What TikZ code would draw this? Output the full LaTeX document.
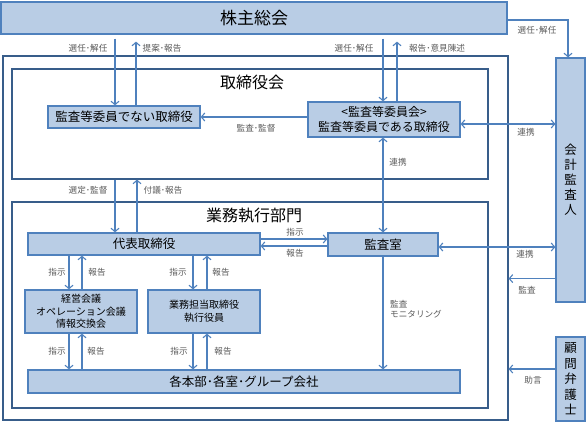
\documentclass[tikz,border=0pt]{standalone}
\usepackage{fontspec}
\setmainfont{Noto Sans CJK JP}
\usetikzlibrary{calc,arrows.meta}
\definecolor{boxfill}{HTML}{B9CDE5}
\definecolor{boxline}{HTML}{4F81BD}
\definecolor{frameline}{HTML}{385D8A}
\definecolor{labelgray}{HTML}{595959}

\begin{document}
\begin{tikzpicture}[x=1pt,y=-1pt,
  box/.style={draw=boxline,fill=boxfill,line width=1.2pt,inner sep=0pt,align=center,font=\fontsize{12.5}{14}\selectfont},
  smallbox/.style={box,font=\fontsize{10}{12.5}\selectfont},
  frame/.style={draw=frameline,line width=1.1pt,inner sep=0pt},
  arr/.style={draw=boxline,line width=1.1pt,-{Straight Barb[length=3.5pt,width=8pt]}},
  dbl/.style={draw=boxline,line width=1.1pt,{Straight Barb[length=3.5pt,width=8pt]}-{Straight Barb[length=3.5pt,width=8pt]}},
  lbl/.style={text=labelgray,font=\fontsize{8.6}{10}\selectfont,inner sep=0pt}]
\useasboundingbox (0,0) rectangle (586,423);
% the frames
\node[frame,minimum width=505,minimum height=364] (co) at (255.5,238) {};
\node[frame,minimum width=476,minimum height=110] (bd) at (250,124) {};
\node[frame,minimum width=476,minimum height=206] (ex) at (250,305) {};
\node[font=\fontsize{16}{18}\selectfont] (bdt) at (252,82) {取締役会};
\node[font=\fontsize{16}{18}\selectfont] (ext) at (254,216) {業務執行部門};
% the boxes
\node[box,minimum width=506,minimum height=32,font=\fontsize{17}{19}\selectfont] (gm) at (254,18) {株主総会};
\node[box,minimum width=152,minimum height=22] (nd) at (124,117) {監査等委員でない取締役};
\node[box,minimum width=152,minimum height=35,font=\fontsize{12}{15}\selectfont] (ac) at (384,119.5) {<監査等委員会>\\監査等委員である取締役};
\node[box,minimum width=232,minimum height=22] (rep) at (144,244) {代表取締役};
\node[box,minimum width=110,minimum height=23] (aud) at (383,244.5) {監査室};
\node[smallbox,minimum width=112,minimum height=43] (mtg) at (81,311.5) {経営会議\\オペレーション会議\\情報交換会};
\node[smallbox,minimum width=112,minimum height=43] (exo) at (204,311.5) {業務担当取締役\\執行役員};
\node[box,minimum width=432,minimum height=23] (div) at (244,381.5) {各本部･各室･グループ会社};
\node[box,minimum width=29,minimum height=244,font=\fontsize{12.5}{15}\selectfont] (ca) at (570.5,180) {会\\計\\監\\査\\人};
\node[box,minimum width=29,minimum height=84,font=\fontsize{12.5}{15.5}\selectfont] (lw) at (570.5,379) {顧\\問\\弁\\護\\士};
% shareholders and the board
\draw[arr] ($(nd.north |- gm.south)+(-9,4)$) -- ($(nd.north)+(-9,0)$);
\draw[arr] ($(nd.north)+(12,0)$) -- ($(nd.north |- gm.south)+(12,7)$);
\draw[arr] ($(ac.north |- gm.south)+(-1,4)$) -- ($(ac.north)+(-1,0)$);
\draw[arr] ($(ac.north)+(13,0)$) -- ($(ac.north |- gm.south)+(13,7)$);
\draw[arr] ($(gm.east)+(0,2)$) -| ($(ca.north)+(-2.5,0)$);
\draw[arr] (ac.west |- nd.east) -- (nd.east);
\draw[dbl] ($(ac.east)+(0,4.5)$) -- ($(ac.east -| ca.west)+(0,4.5)$);
\draw[dbl] (ac.south -| aud.north) -- (aud.north);
% board and the executives
\draw[arr] ($(rep.north |- bd.south)+(-29,0)$) -- ($(rep.north)+(-29,0)$);
\draw[arr] ($(rep.north)+(-7,0)$) -- ($(rep.north |- bd.south)+(-7,0)$);
\draw[arr] ($(rep.east)+(0,-5)$) -- ($(aud.west |- rep.east)+(0,-5)$);
\draw[arr] ($(aud.west |- rep.east)+(0,2)$) -- ($(rep.east)+(0,2)$);
\draw[dbl] ($(aud.east)+(0,2.5)$) -- ($(aud.east -| ca.west)+(0,2.5)$);
\draw[arr] (aud.south) -- (aud.south |- div.north);
\draw[arr] ($(ca.south west)+(0,-24)$) -- ($(ca.south west -| co.east)+(0,-24)$);
\draw[arr] ($(lw.west)+(0,-10)$) -- ($(lw.west -| co.east)+(0,-10)$);
% instructions and reports
\foreach \b/\dn/\up in {mtg/-12/1,exo/-11/3} {
  \draw[arr] ($(\b.north |- rep.south)+(\dn,0)$) -- ($(\b.north)+(\dn,0)$);
  \draw[arr] ($(\b.north)+(\up,0)$) -- ($(\b.north |- rep.south)+(\up,0)$);
  \draw[arr] ($(\b.south)+(\dn,0)$) -- ($(\b.south |- div.north)+(\dn,0)$);
  \draw[arr] ($(\b.south |- div.north)+(\up,0)$) -- ($(\b.south)+(\up,0)$);
}
% the labels
\node[lbl] (l1) at (88,48) {選任･解任};
\node[lbl] (l2) at (162,48) {提案･報告};
\node[lbl] (l3) at (354,48) {選任･解任};
\node[lbl] (l4) at (437,48) {報告･意見陳述};
\node[lbl] (l5) at (537,30) {選任･解任};
\node[lbl] (l6) at (256,128) {監査･監督};
\node[lbl] (l7) at (526,132) {連携};
\node[lbl] (l8) at (398,162) {連携};
\node[lbl] (l9) at (88,190) {選定･監督};
\node[lbl] (l10) at (163,190) {付議･報告};
\node[lbl] (l11) at (295,232) {指示};
\node[lbl] (l12) at (295,253) {報告};
\node[lbl] (l13) at (525,254) {連携};
\node[lbl] (l14) at (527,290) {監査};
\node[lbl,align=left,anchor=west] (l15) at (390,309) {監査\\モニタリング};
\node[lbl] (l16) at (533,380) {助言};
\node[lbl] (l17) at (57,272) {指示};
\node[lbl] (l18) at (97,272) {報告};
\node[lbl] (l19) at (178,272) {指示};
\node[lbl] (l20) at (221,272) {報告};
\node[lbl] (l21) at (57,351) {指示};
\node[lbl] (l22) at (96,351) {報告};
\node[lbl] (l23) at (179,351) {指示};
\node[lbl] (l24) at (223,351) {報告};
\end{tikzpicture}
\end{document}
